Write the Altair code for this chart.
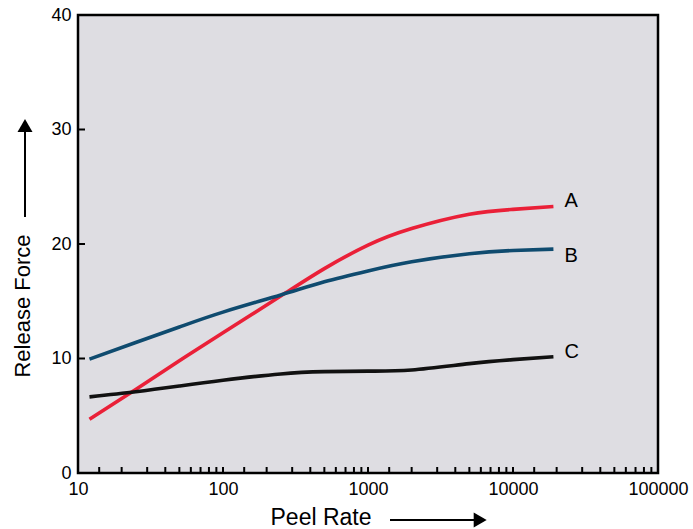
import altair as alt
import pandas as pd

# Release force (y) against peel rate (x, log scale) for three coatings
peel_rate = [12, 25, 50, 100, 250, 500, 1000, 2000, 5000, 10000, 19000]
force_a = [4.7, 7.3, 9.8, 12.25, 15.45, 17.85, 19.9, 21.35, 22.6, 23.02, 23.27]
force_b = [9.95, 11.4, 12.75, 14.05, 15.55, 16.7, 17.65, 18.45, 19.15, 19.43, 19.55]
force_c = [6.65, 7.1, 7.6, 8.1, 8.65, 8.85, 8.9, 9.0, 9.55, 9.9, 10.15]

series_names = ["A", "B", "C"]
series_colors = ["#ea2038", "#0f4b6f", "#111111"]

x_labels = [10, 100, 1000, 10000, 100000]
y_labels = [0, 10, 20, 30, 40]
y_ticks = [10, 20, 30]
x_ticks = [14, 20, 30, 40, 50, 60, 70, 80, 90, 100,
           140, 200, 300, 400, 500, 600, 700, 800, 900, 1000,
           1400, 2000, 3000, 4000, 5000, 6000, 7000, 8000, 9000, 10000,
           14000, 20000, 30000, 40000, 50000, 60000, 70000, 80000, 90000]

rows = []
for name, vals in zip(series_names, [force_a, force_b, force_c]):
    for r, v in zip(peel_rate, vals):
        rows.append({"rate": r, "force": v, "series": name})
df = pd.DataFrame(rows)
ends = df.groupby("series").tail(1)

FONT = "Liberation Sans"
W, H = 580, 458

x_scale = alt.Scale(type="log", domain=[10, 100000], nice=False)
y_scale = alt.Scale(domain=[0, 40], nice=False)

x_enc = alt.X("rate:Q", scale=x_scale,
              axis=alt.Axis(values=x_labels, format="d", ticks=False, domain=False,
                            grid=False, labelFontSize=18, labelPadding=7,
                            labelFlush=False, labelOverlap=False, labelFont=FONT,
                            labelColor="#000", title=None))
y_enc = alt.Y("force:Q", scale=y_scale,
              axis=alt.Axis(values=y_labels, ticks=False, domain=False, grid=False,
                            labelFontSize=18, labelPadding=7, labelFlush=False,
                            labelFont=FONT, labelColor="#000", title=None))

lines = alt.Chart(df).mark_line(strokeWidth=3.6, interpolate="natural").encode(
    x=x_enc,
    y=y_enc,
    color=alt.Color("series:N", scale=alt.Scale(domain=series_names, range=series_colors),
                    legend=None),
    detail="series:N",
)

label_layers = []
for name, dy in zip(series_names, [-6, 6.5, -5]):
    label_layers.append(
        alt.Chart(ends).transform_filter(alt.datum.series == name)
        .mark_text(align="left", baseline="middle", dx=11, dy=dy, fontSize=20,
                   font=FONT, color="#000")
        .encode(x=alt.X("rate:Q", scale=x_scale), y=alt.Y("force:Q", scale=y_scale),
                text="series:N")
    )

# inward tick marks along the bottom and left edges
xt = alt.Chart(pd.DataFrame({"t": x_ticks})).mark_rule(color="#000", strokeWidth=2).encode(
    x=alt.X("t:Q", scale=x_scale), y=alt.value(H), y2=alt.value(H - 6))
yt = alt.Chart(pd.DataFrame({"t": y_ticks})).mark_rule(color="#000", strokeWidth=2).encode(
    y=alt.Y("t:Q", scale=y_scale), x=alt.value(0), x2=alt.value(7))

one = pd.DataFrame({"k": [0]})

y_title = alt.Chart(one).mark_text(text="Release Force", angle=270, fontSize=22, font=FONT,
                                   color="#000", align="center", baseline="middle").encode(
    x=alt.value(-55), y=alt.value(291))
y_arrow = alt.Chart(one).mark_rule(color="#000", strokeWidth=2).encode(
    x=alt.value(-53), y=alt.value(202), y2=alt.value(114))
y_head = alt.Chart(one).mark_point(shape="triangle-up", filled=True, size=225, color="#000",
                                   opacity=1).encode(x=alt.value(-53), y=alt.value(110.5))

x_title = alt.Chart(one).mark_text(text="Peel Rate", fontSize=23, font=FONT, color="#000",
                                   align="center", baseline="middle").encode(
    x=alt.value(243), y=alt.value(503))
x_arrow = alt.Chart(one).mark_rule(color="#000", strokeWidth=2).encode(
    x=alt.value(312), x2=alt.value(400), y=alt.value(505))
x_head = alt.Chart(one).mark_point(shape="triangle-right", filled=True, size=225, color="#000",
                                   opacity=1).encode(x=alt.value(402.2), y=alt.value(505))

chart = alt.layer(
    lines, *label_layers, xt, yt, y_title, y_arrow, y_head, x_title, x_arrow, x_head
).properties(
    width=W, height=H,
    autosize=alt.AutoSizeParams(type="none"),
    padding={"left": 78, "top": 15, "right": 35, "bottom": 56},
    background="white",
).configure_view(
    fill="#dedde2", stroke="#000", strokeWidth=2.5
)

chart.save("out.html", embed_options={"renderer": "svg", "actions": False})
